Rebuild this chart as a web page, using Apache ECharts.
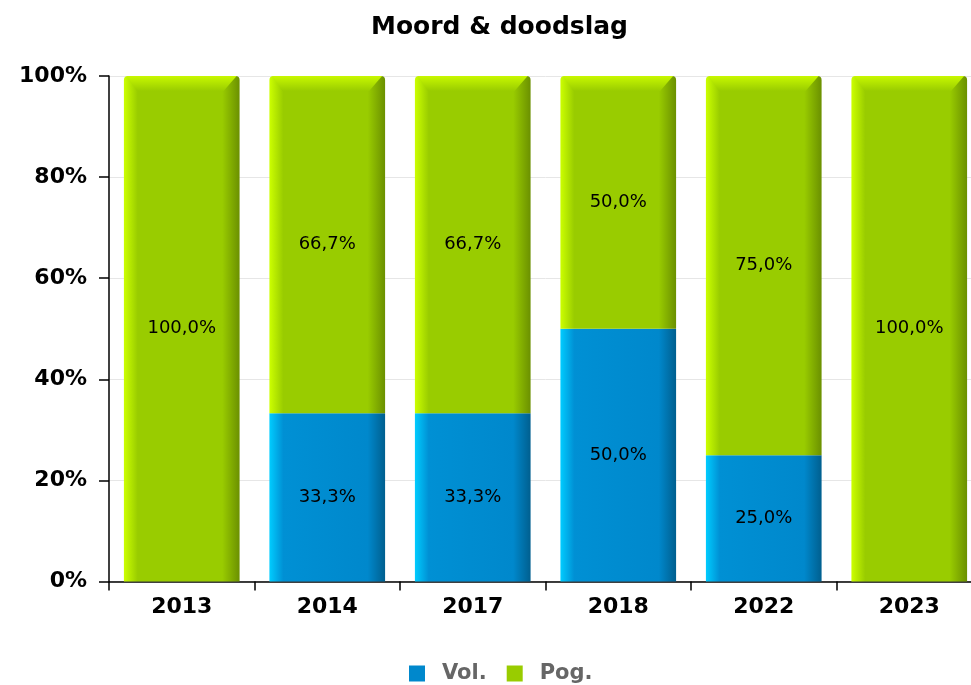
<!DOCTYPE html>
<html><head><meta charset="utf-8">
<script src="https://cdn.jsdelivr.net/npm/echarts@6/dist/echarts.min.js"></script>
<style>html,body{margin:0;padding:0;background:#fff;overflow:hidden}#c{width:982px;height:685px}</style>
</head><body><div id="c"></div>
<script>
const categories = ['2013','2014','2017','2018','2022','2023'];
const volValues = [0, 33.3, 33.3, 50.0, 25.0, 0];
const pogValues = [100.0, 66.7, 66.7, 50.0, 75.0, 100.0];
const yTicks = [0, 20, 40, 60, 80, 100];

const F = '"DejaVu Sans", sans-serif';
const BAR_FRAC = 0.795;
function grad(c0, c1, c2, c3) {
  return new echarts.graphic.LinearGradient(0, 0, 1, 0, [
    {offset: 0, color: c0}, {offset: 0.12, color: c1}, {offset: 0.85, color: c2}, {offset: 1, color: c3}
  ]);
}
const fmt = p => p.value > 0 ? p.value.toFixed(1).replace('.', ',') + '%' : '';
const capData = categories.map((c, i) => [i, volValues[i] + pogValues[i]]);
const chart = echarts.init(document.getElementById('c'), null, {renderer: 'canvas'});
chart.setOption({
  animation: false,
  title: {text: 'Moord & doodslag', left: 366, top: 10,
    textStyle: {fontFamily: F, fontWeight: 'bold', fontSize: 25, color: '#000'}},
  legend: {top: 658, left: 404, itemWidth: 16, itemHeight: 16, itemGap: 20, icon: 'rect',
    textStyle: {fontFamily: F, fontWeight: 'bold', fontSize: 21, color: '#666', padding: [0, 0, 0, 12]},
    data: [{name: 'Vol.', itemStyle: {color: '#0088cc'}}, {name: 'Pog.', itemStyle: {color: '#99cc00'}}]},
  grid: {left: 109, top: 76, right: 0, height: 505.5, containLabel: false},
  xAxis: {type: 'category', data: categories,
    axisLine: {lineStyle: {color: '#000', width: 1.5}},
    axisTick: {show: true, length: 9, lineStyle: {color: '#000', width: 1.5}},
    axisLabel: {fontFamily: F, fontWeight: 'bold', fontSize: 22, color: '#000', margin: 15}},
  yAxis: {type: 'value', min: 0, max: 100, interval: 20,
    axisLine: {show: true, lineStyle: {color: '#000', width: 1.5}},
    axisTick: {show: true, length: 10, lineStyle: {color: '#000', width: 1.5}},
    splitLine: {lineStyle: {color: '#e6e6e6'}},
    axisLabel: {fontFamily: F, fontWeight: 'bold', fontSize: 22, color: '#000', margin: 22,
      formatter: v => yTicks.includes(v) ? v + '%' : ''}},
  series: [
    {name: 'Vol.', type: 'bar', stack: 's', data: volValues, barWidth: (BAR_FRAC * 100) + '%',
      itemStyle: {color: grad('#00ccff', '#0090d4', '#0088cc', '#005f8f')},
      label: {show: true, position: 'inside', formatter: fmt, fontFamily: F, fontSize: 18, color: '#000'}},
    {name: 'Pog.', type: 'bar', stack: 's', data: pogValues, barWidth: (BAR_FRAC * 100) + '%',
      itemStyle: {color: grad('#ccff00', '#99cc00', '#99cc00', '#6b9000'), borderRadius: [4, 4, 0, 0]},
      label: {show: true, position: 'inside', formatter: fmt, fontFamily: F, fontSize: 18, color: '#000'}},
    {name: 'cap', type: 'custom', silent: true, z: 3, data: capData,
      renderItem: (params, api) => {
        const c = api.coord([api.value(0), api.value(1)]);
        const w = api.size([1, 0])[0] * BAR_FRAC;
        const x0 = c[0] - w / 2, x1 = c[0] + w / 2, t = c[1];
        return {type: 'polygon', shape: {points: [[x0 + 3, t], [x1 - 3, t], [x1 - 16, t + 15], [x0 + 13, t + 15]]},
          style: {fill: new echarts.graphic.LinearGradient(0, 0, 0, 1, [
            {offset: 0, color: '#c8f800'}, {offset: 1, color: '#99cc00'}])}};
      }}
  ]
});
</script></body></html>
